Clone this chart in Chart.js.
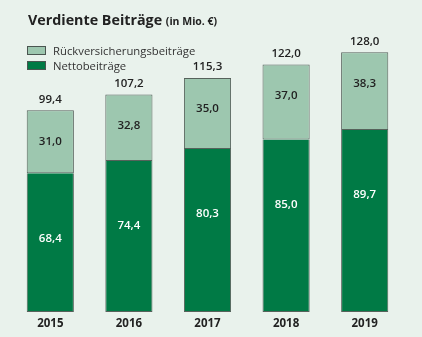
<!DOCTYPE html>
<html lang="de">
<head>
<meta charset="utf-8">
<script src="https://cdn.jsdelivr.net/npm/chart.js@4"></script>
<style>
  html, body { margin: 0; padding: 0; background: #e9f2ec; }
  .wrap { position: relative; width: 422px; height: 337px; font-family: "Open Sans", sans-serif; color: #222; }
  canvas { position: absolute; left: 0; top: 0; }
  .title { position: absolute; left: 28px; top: 10px; font-size: 14.3px; font-weight: 700; white-space: nowrap; }
  .title small { font-size: 10.5px; }
  .legend { position: absolute; left: 27px; top: 43px; font-size: 11.3px; color: #333; }
  .legend div { height: 15px; line-height: 15px; white-space: nowrap; }
  .legend span { display: inline-block; width: 17px; height: 7px; border: 1px solid #4a5550; vertical-align: middle; margin: -2px 7px 0 0; }
</style>
</head>
<body>
<div class="wrap">
  <canvas id="chart" width="422" height="337"></canvas>
  <div class="title">Verdiente Beiträge <small>(in Mio. €)</small></div>
  <div class="legend" id="legend"></div>
</div>
<script>
const years = ['2015', '2016', '2017', '2018', '2019'];
const netto = [68.4, 74.4, 80.3, 85.0, 89.7];
const rueck = [31.0, 32.8, 35.0, 37.0, 38.3];
const totals = [99.4, 107.2, 115.3, 122.0, 128.0];

const darkGreen = '#007a45';
const lightGreen = '#9dc7af';
const edge = '#56625b';

const fmt = v => v.toFixed(1).replace('.', ',');

// Labels on and above the bars
const labelPlugin = {
    id: 'barLabels',
    afterDatasetsDraw(chart) {
        const ctx = chart.ctx;
        const dark = chart.getDatasetMeta(0).data;
        const light = chart.getDatasetMeta(1).data;
        ctx.save();
        ctx.textAlign = 'center';
        ctx.textBaseline = 'middle';
        ctx.font = '600 11.5px "Open Sans"';
        dark.forEach((bar, i) => {
            ctx.fillStyle = '#ffffff';
            ctx.fillText(fmt(netto[i]), bar.x, bar.y + 65);
            const top = light[i];
            ctx.fillStyle = '#222';
            ctx.fillText(fmt(rueck[i]), top.x, top.y + 31);
            ctx.fillText(fmt(totals[i]), top.x, top.y - 11);
        });
        // year labels under the bars
        ctx.font = '700 11.5px "Open Sans"';
        const xScale = chart.scales.x;
        const yScale = chart.scales.y;
        years.forEach((y, i) => {
            ctx.fillText(y, xScale.getPixelForValue(i), yScale.getPixelForValue(0) + 12);
        });
        ctx.restore();
    }
};

const chart = new Chart(document.getElementById('chart'), {
    type: 'bar',
    data: {
        labels: years,
        datasets: [
            {
                label: 'Nettobeiträge',
                data: netto,
                backgroundColor: darkGreen,
                borderColor: edge,
                borderWidth: { top: 0, left: 1, right: 1, bottom: 1 },
                borderSkipped: false
            },
            {
                label: 'Rückversicherungsbeiträge',
                data: rueck,
                backgroundColor: lightGreen,
                borderColor: edge,
                borderWidth: 1,
                borderSkipped: false
            }
        ]
    },
    options: {
        responsive: false,
        animation: false,
        layout: {
            padding: { left: 11, right: 18, top: 28, bottom: 25 }
        },
        datasets: {
            bar: { barPercentage: 0.6, categoryPercentage: 1 }
        },
        plugins: {
            legend: { display: false },
            tooltip: { enabled: false }
        },
        scales: {
            x: { stacked: true, display: false },
            y: { stacked: true, display: false, min: 0, max: 140 }
        }
    },
    plugins: [labelPlugin]
});

// Legend built from the datasets, light one first
const legendEl = document.getElementById('legend');
chart.data.datasets.slice().reverse().forEach(ds => {
    const row = document.createElement('div');
    row.innerHTML = '<span style="background:' + ds.backgroundColor + '"></span>' + ds.label;
    legendEl.appendChild(row);
});
</script>
</body>
</html>
